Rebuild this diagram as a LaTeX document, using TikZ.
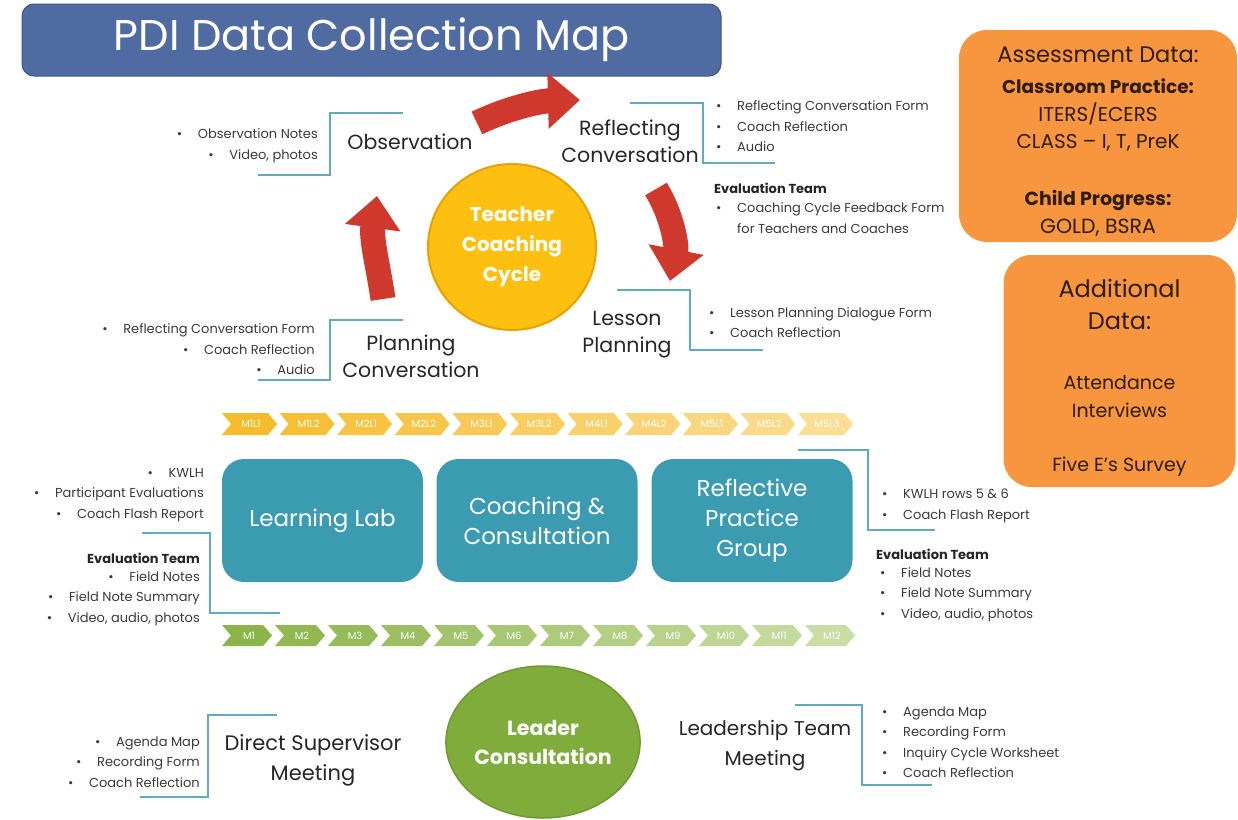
\documentclass[tikz,border=0pt]{standalone}
\usepackage{fontspec}
\setmainfont{Poppins}
\usetikzlibrary{arrows.meta,shapes.geometric}

\definecolor{titleblue}{HTML}{4F6BA1}
\definecolor{titleedge}{HTML}{3E5789}
\definecolor{boxorange}{HTML}{F7963F}
\definecolor{orangetext}{HTML}{2E1C0C}
\definecolor{tealbox}{HTML}{3B9BB0}
\definecolor{sunfill}{HTML}{FEC010}
\definecolor{sunedge}{HTML}{E8A200}
\definecolor{leaffill}{HTML}{80AC3C}
\definecolor{leafedge}{HTML}{6F9931}
\definecolor{arrowred}{HTML}{CF392D}
\definecolor{arrowedge}{HTML}{A82A22}
\definecolor{bracketc}{HTML}{62AABE}
\definecolor{labeltext}{HTML}{262626}
\definecolor{itemtext}{HTML}{3A3A3A}
\definecolor{chevYa}{HTML}{F6BC2C}
\definecolor{chevYb}{HTML}{FBDD94}
\definecolor{chevGa}{HTML}{8BB449}
\definecolor{chevGb}{HTML}{CADEA6}

\newcommand{\fsz}[2]{\fontsize{#1}{#2}\selectfont}
\newcommand{\bul}{\makebox[21pt][l]{•}}

\tikzset{
  stage/.style={font=\fsz{20.5}{27}, text=labeltext, align=center, inner sep=0pt},
  items/.style={font=\fsz{13}{20.5}, text=itemtext, inner sep=0pt},
  itemsL/.style={items, align=left, anchor=west},
  itemsR/.style={items, align=right, anchor=east},
  evalhead/.style={font=\fsz{13}{20.5}\bfseries, text=labeltext, inner sep=0pt},
  bracketline/.style={draw=bracketc, line width=1.6pt},
  cyclearrow/.style={draw=arrowred, line width=25pt,
    -{Triangle[width=54pt,length=32pt]}},
  tealbox/.style={rectangle, rounded corners=22pt, fill=tealbox, text=white,
    minimum width=201pt, minimum height=123pt, align=center, font=\fsz{23}{30}},
  orangebox/.style={rectangle, rounded corners=28pt, fill=boxorange},
  otext/.style={text=orangetext, inner sep=0pt},
  chevtext/.style={text=white, font=\fsz{10}{11}, inner sep=0pt},
}

\begin{document}
\begin{tikzpicture}[x=1pt,y=-1pt]
\useasboundingbox (0,0) rectangle (1238,819);

% title banner
\node[rectangle, rounded corners=12pt, draw=titleedge, line width=1pt, fill=titleblue,
  minimum width=699pt, minimum height=72pt, text=white, font=\fsz{43}{50}]
  (title) at (371.5,40) {PDI Data Collection Map};

% assessment data box
\node[orangebox, minimum width=278pt, minimum height=212pt] (assess) at (1098,136) {};
\node[otext, font=\fsz{22.5}{26}] (assessA) at (1098,55) {Assessment Data:};
\node[otext, font=\fsz{18.5}{22}\bfseries] (assessB) at (1098,86) {Classroom Practice:};
\node[otext, font=\fsz{20}{24}] (assessC) at (1098,114) {ITERS/ECERS};
\node[otext, font=\fsz{20}{24}] (assessD) at (1098,143) {CLASS – I, T, PreK};
\node[otext, font=\fsz{19}{22}\bfseries] (assessE) at (1098,200) {Child Progress:};
\node[otext, font=\fsz{20.5}{24}] (assessF) at (1098,228) {GOLD, BSRA};

% additional data box
\node[orangebox, minimum width=232pt, minimum height=232pt] (addl) at (1119.5,371) {};
\node[otext, font=\fsz{24}{28}] (addlA) at (1119.5,288) {Additional};
\node[otext, font=\fsz{24}{28}] (addlB) at (1119.5,321) {Data:};
\node[otext, font=\fsz{19}{22}] (addlC) at (1119.5,383) {Attendance};
\node[otext, font=\fsz{19}{22}] (addlD) at (1119.5,410) {Interviews};
\node[otext, font=\fsz{19}{22}] (addlE) at (1119.5,467) {Five E’s Survey};

% coaching cycle
\node[ellipse, draw=sunedge, line width=2pt, fill=sunfill, minimum width=168pt,
  minimum height=166pt, inner sep=0pt, text=white, align=center,
  font=\fsz{20}{30}\bfseries] (tcc) at (512,247) {Teacher\\Coaching\\Cycle};

\draw[cyclearrow] (477,123) .. controls (508,108) and (540,101) .. (580,100);
\draw[cyclearrow] (656,189) .. controls (672,215) and (677,245) .. (670,281);
\draw[cyclearrow] (383,299) .. controls (378,265) and (371,240) .. (377,196);

\node[stage] (obs) at (410,142) {Observation};
\node[stage] (refl) at (630,141) {Reflecting\\Conversation};
\node[stage] (lesson) at (627,335) {Lesson\\Planning};
\node[stage] (plan) at (411,356) {Planning\\Conversation};

\draw[bracketline] (403,113) -- (330,113) -- (330,175) -- (258,175);
\draw[bracketline] (630,103) -- (703,103) -- (703,163) -- (775,163);
\draw[bracketline] (617,290) -- (690,290) -- (690,350) -- (763,350);
\draw[bracketline] (403,320) -- (330,320) -- (330,380) -- (258,380);

\node[itemsR] (obsL) at (318,145.5) {\bul Observation Notes\\\bul Video, photos};
\node[itemsL] (reflL) at (716,126.5) {\bul Reflecting Conversation Form\\\bul Coach Reflection\\\bul Audio};
\node[evalhead, anchor=west] (evalA) at (714,188) {Evaluation Team};
\node[itemsL] (evalAL) at (716,218) {\bul Coaching Cycle Feedback Form\\\hspace*{21pt}for Teachers and Coaches};
\node[itemsL] (lessonL) at (709,322.5) {\bul Lesson Planning Dialogue Form\\\bul Coach Reflection};
\node[itemsR] (planL) at (315,349.5) {\bul Reflecting Conversation Form\\\bul Coach Reflection\\\bul Audio};

% session timeline
\foreach \lab [count=\i from 0] in {M1L1,M1L2,M2L1,M2L2,M3L1,M3L2,M4L1,M4L2,M5L1,M5L2,M5L3} {
  \pgfmathtruncatemacro\p{100-\i*10}
  \colorlet{chevc}{chevYa!\p!chevYb}
  \pgfmathsetmacro\xa{222+\i*57.6}
  \fill[chevc] (\xa,413) -- ++(46,0) -- ++(9,11) -- ++(-9,11) -- ++(-46,0) -- ++(9,-11) -- cycle;
  \node[chevtext] (ses\i) at (\xa+29,424) {\lab};
}

% programme components
\node[tealbox] (lab) at (322.5,520.5) {Learning Lab};
\node[tealbox] (coach) at (537,520.5) {Coaching \&\\Consultation};
\node[tealbox] (rpg) at (752,520.5) {Reflective\\Practice\\Group};

\draw[bracketline] (142,533) -- (210,533) -- (210,613) -- (280,613);
\draw[bracketline] (798,450) -- (868,450) -- (868,530) -- (935,530);

\node[itemsR] (labL) at (204,495) {\bul KWLH\\\bul Participant Evaluations\\\bul Coach Flash Report};
\node[evalhead, anchor=east] (evalB) at (200,558) {Evaluation Team};
\node[itemsR] (labE) at (200,598.5) {\bul Field Notes\\\bul Field Note Summary\\\bul Video, audio, photos};

\node[itemsL] (rpgL) at (882,506) {\bul KWLH rows 5 \& 6\\\bul Coach Flash Report};
\node[evalhead, anchor=west] (evalC) at (876,554) {Evaluation Team};
\node[itemsL] (rpgE) at (880,594.5) {\bul Field Notes\\\bul Field Note Summary\\\bul Video, audio, photos};

% month timeline
\foreach \lab [count=\i from 0] in {M1,M2,M3,M4,M5,M6,M7,M8,M9,M10,M11,M12} {
  \pgfmathtruncatemacro\p{100-\i*9}
  \colorlet{chevc}{chevGa!\p!chevGb}
  \pgfmathsetmacro\xa{222+\i*53}
  \fill[chevc] (\xa,625) -- ++(41,0) -- ++(9,10.5) -- ++(-9,10.5) -- ++(-41,0) -- ++(9,-10.5) -- cycle;
  \node[chevtext] (mon\i) at (\xa+27,635.5) {\lab};
}

% leader consultation
\node[ellipse, draw=leafedge, line width=1.5pt, fill=leaffill, minimum width=158pt,
  minimum height=152pt, inner sep=0pt, text=white, align=center,
  font=\fsz{20.5}{29}\bfseries] (lc) at (543,742) {Leader\\Consultation};

\node[stage, font=\fsz{21}{30}] (dsm) at (313,760) {Direct Supervisor\\Meeting};
\node[stage, font=\fsz{20}{30}] (ltm) at (765,746) {Leadership Team\\Meeting};

\draw[bracketline] (277,715) -- (208,715) -- (208,797) -- (140,797);
\draw[bracketline] (795,705) -- (862,705) -- (862,785) -- (932,785);

\node[itemsR] (dsmL) at (200,762) {\bul Agenda Map\\\bul Recording Form\\\bul Coach Reflection};
\node[itemsL] (ltmL) at (882,742) {\bul Agenda Map\\\bul Recording Form\\\bul Inquiry Cycle Worksheet\\\bul Coach Reflection};

\end{tikzpicture}
\end{document}
